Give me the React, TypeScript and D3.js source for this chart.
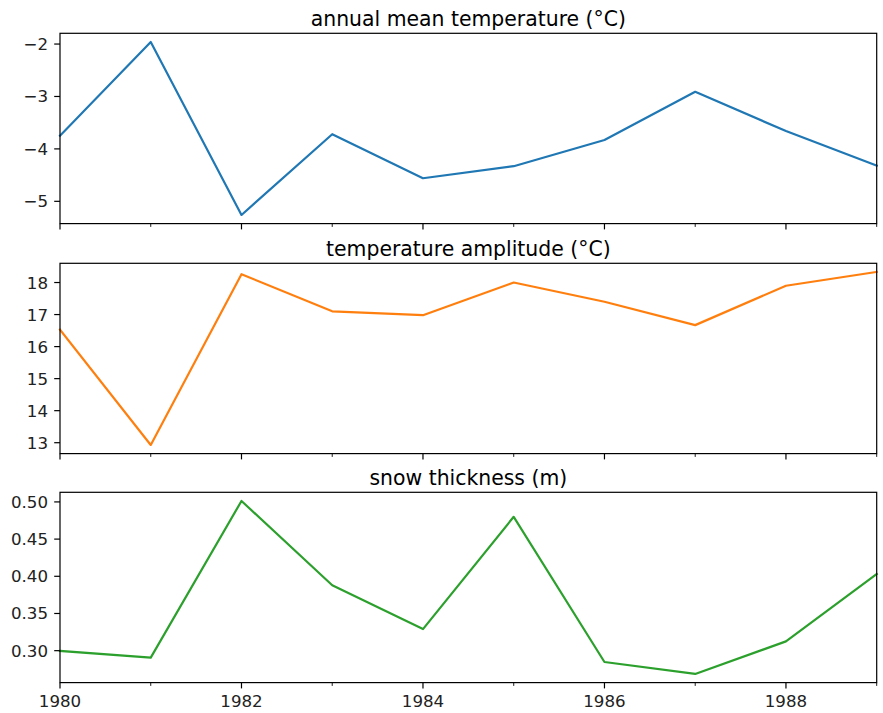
import React from "react";
import * as d3 from "d3";

const years = [1980, 1981, 1982, 1983, 1984, 1985, 1986, 1987, 1988, 1989];
const meanTemp = [-3.75, -1.96, -5.26, -3.72, -4.56, -4.33, -3.83, -2.91, -3.66, -4.32];
const tempAmplitude = [16.53, 12.93, 18.26, 17.1, 16.98, 18.0, 17.4, 16.67, 17.9, 18.33];
const snowThickness = [0.2996, 0.2906, 0.5013, 0.388, 0.329, 0.48, 0.2848, 0.2687, 0.3125, 0.403];

const titles = ["annual mean temperature (°C)", "temperature amplitude (°C)", "snow thickness (m)"];
const colors = ["#1f77b4", "#ff7f0e", "#2ca02c"];
const yTicks = [
  [-5, -4, -3, -2],
  [13, 14, 15, 16, 17, 18],
  [0.3, 0.35, 0.4, 0.45, 0.5],
];
const yFormats = [(v: number) => d3.format("d")(v).replace("-", "\u2212"), (v: number) => d3.format("d")(v), (v: number) => d3.format(".2f")(v)];
const xMajorTicks = [1980, 1982, 1984, 1986, 1988];
const xMinorTicks = [1981, 1983, 1985, 1987, 1989];

const W = 883;
const H = 713;
const left = 60;
const right = 876.7;
const tops = [33.3, 263.3, 492.3];
const panelH = 190.3;
const font = "DejaVu Sans, sans-serif";
const tickFs = 16.67;
const titleFs = 20.4;

function Panel({ idx, values, top }: { idx: number; values: number[]; top: number }) {
  const x = d3.scaleLinear().domain([1980, 1989]).range([left, right]);
  const [mn, mx] = d3.extent(values) as [number, number];
  const pad = (mx - mn) * 0.05;
  const y = d3.scaleLinear().domain([mn - pad, mx + pad]).range([top + panelH, top]);
  const line = d3.line<number>().x((_, i) => x(years[i])).y((d) => y(d));
  const bottom = top + panelH;
  const showX = idx === 2;
  return (
    <g>
      <text x={(left + right) / 2} y={top - 7.3} textAnchor="middle" fontSize={titleFs} fontFamily={font} fill="#000">
        {titles[idx]}
      </text>
      <path d={line(values) || ""} fill="none" stroke={colors[idx]} strokeWidth={2.2} strokeLinejoin="round" strokeLinecap="square" />
      <rect x={left} y={top} width={right - left} height={panelH} fill="none" stroke="#000" strokeWidth={1.2} />
      {yTicks[idx].map((t) => (
        <g key={t}>
          <line x1={left} x2={left - 5.8} y1={y(t)} y2={y(t)} stroke="#000" strokeWidth={1.2} />
          <text x={left - 12} y={y(t)} dy="0.36em" textAnchor="end" fontSize={tickFs} fontFamily={font} fill="#222">
            {yFormats[idx](t)}
          </text>
        </g>
      ))}
      {xMajorTicks.map((t) => (
        <g key={t}>
          <line x1={x(t)} x2={x(t)} y1={bottom} y2={bottom + 5.8} stroke="#000" strokeWidth={1.2} />
          {showX && (
            <text x={x(t)} y={707.3} textAnchor="middle" fontSize={tickFs} fontFamily={font} fill="#222">
              {t}
            </text>
          )}
        </g>
      ))}
      {xMinorTicks.map((t) => (
        <line key={t} x1={x(t)} x2={x(t)} y1={bottom} y2={bottom + 3.3} stroke="#000" strokeWidth={0.9} />
      ))}
    </g>
  );
}

export default function App() {
  const series = [meanTemp, tempAmplitude, snowThickness];
  return (
    <svg width={W} height={H} style={{ position: "absolute", left: 0, top: 0 }}>
      <rect width={W} height={H} fill="#fff" />
      {series.map((s, i) => (
        <Panel key={i} idx={i} values={s} top={tops[i]} />
      ))}
    </svg>
  );
}
